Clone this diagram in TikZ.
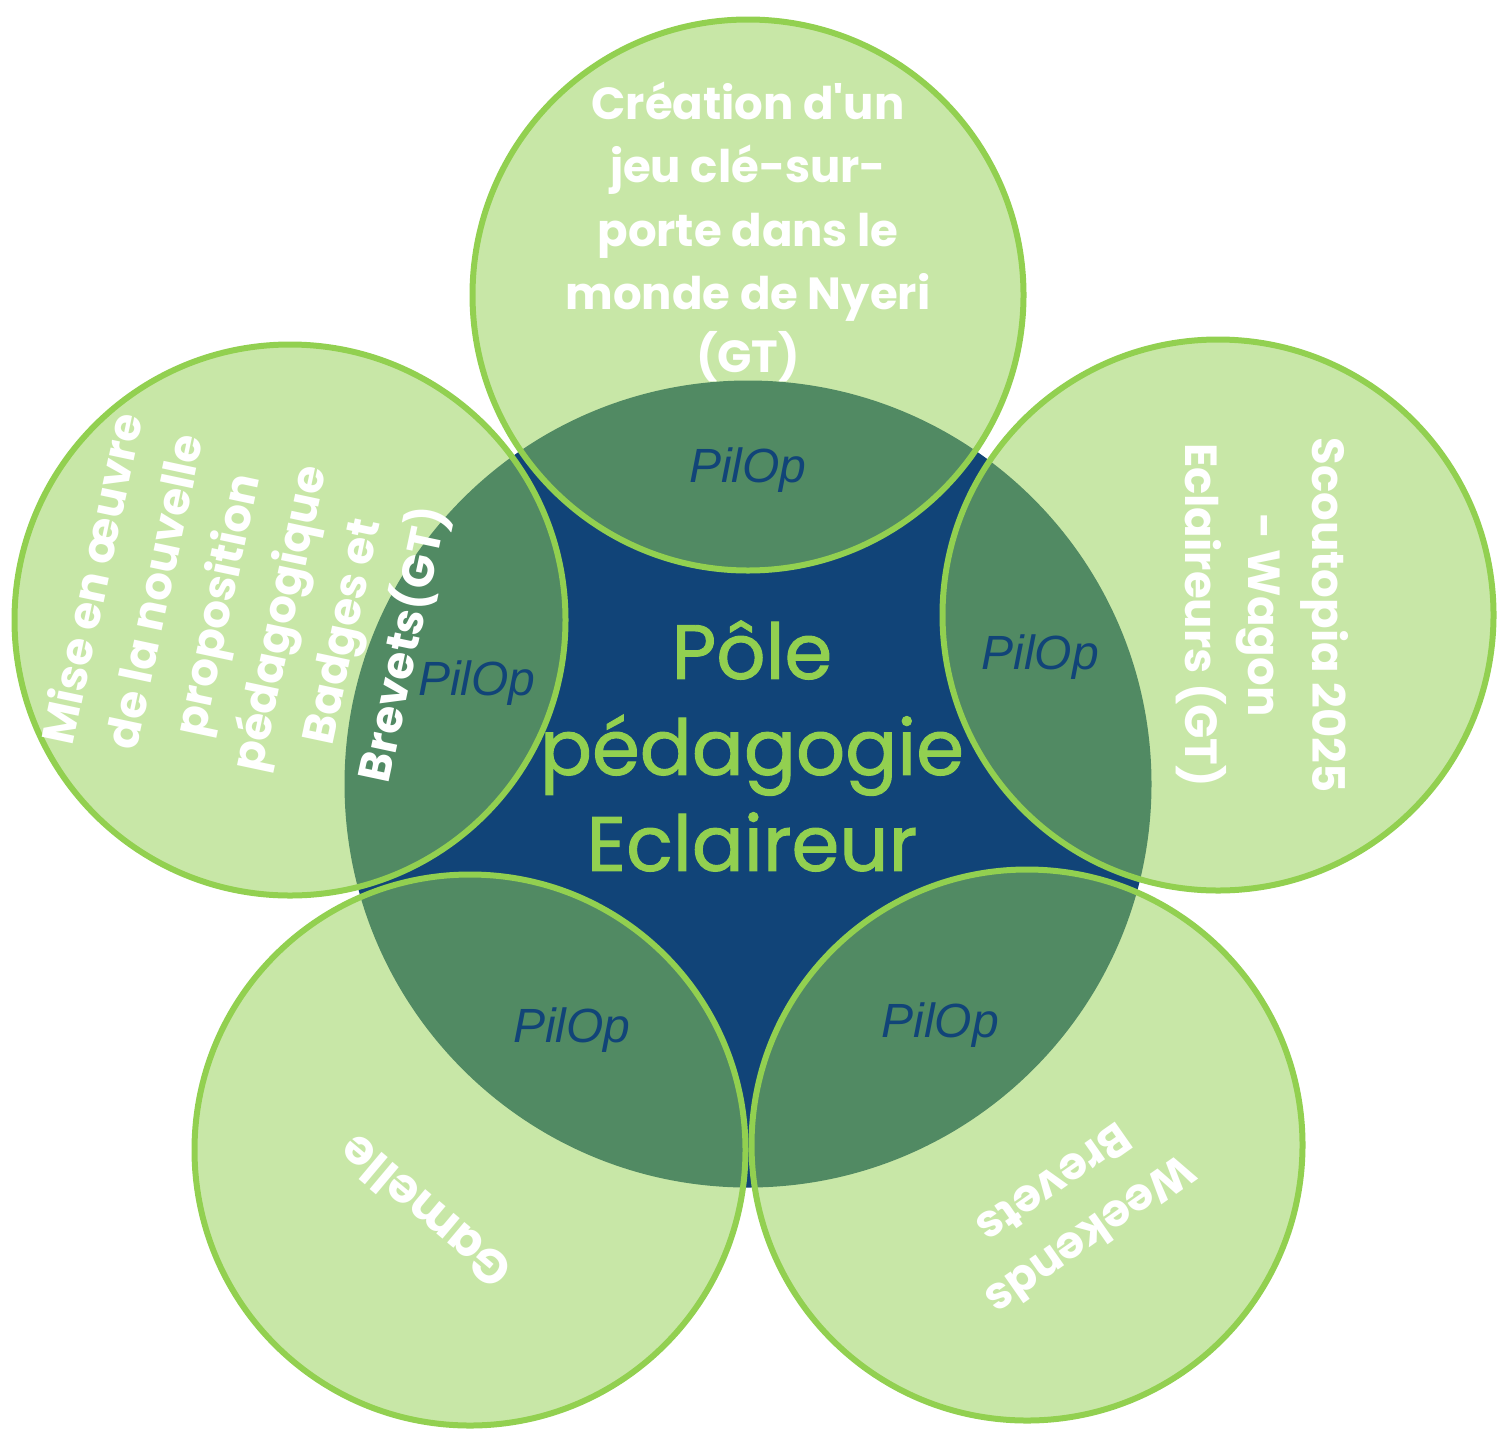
\documentclass[tikz,border=0pt]{standalone}
\usepackage{fontspec}
\setmainfont{Poppins}
\setsansfont{Liberation Sans}
\newfontfamily\polefont[FakeBold=1.2]{Poppins}
\definecolor{poleblue}{RGB}{17,68,120}
\definecolor{leafgreen}{RGB}{146,208,80}

\begin{document}
\begin{tikzpicture}[x=0.5pt,y=-0.5pt,
		core node/.style={circle,fill=poleblue,inner sep=0pt,minimum size=403.5pt},
		petal node/.style={circle,draw=leafgreen,line width=3pt,fill=leafgreen,fill opacity=0.5,inner sep=0pt,minimum size=275.5pt},
		petal text/.style={text=white,align=center,font=\bfseries\fontsize{22.5}{31.7}\selectfont},
		link text/.style={text=poleblue,font=\sffamily\itshape\fontsize{24}{24}\selectfont}]
		\useasboundingbox (0,0) rectangle (1497,1440);
		\node[core node] (pole) at (748,784) {};
		\node[petal node] (nyeri) at (748,295) {};
		\node[petal node] (scoutopia) at (1218,615) {};
		\node[petal node] (weekends) at (1027,1145) {};
		\node[petal node] (gamelle) at (470,1150) {};
		\node[petal node] (badges) at (290,620) {};
		
		\node[text=leafgreen,align=center,font=\polefont\fontsize{38.5}{48}\selectfont] (titre) at (752,746) {Pôle\\pédagogie\\Eclaireur};
		
		\node[petal text] (t nyeri) at (748,232) {Création d\textquotesingle un\\jeu clé-sur-\\porte dans le\\monde de Nyeri\\(GT)};
		\node[petal text,rotate=-90] (t scoutopia) at (1262,615) {Scoutopia 2025\\- Wagon\\Eclaireurs (GT)};
		\node[petal text,rotate=-145] (t weekends) at (1073,1210) {Weekends\\Brevets};
		\node[petal text,rotate=140,font=\bfseries\fontsize{24}{31.7}\selectfont] (t gamelle) at (425,1212) {Gamelle};
		\node[petal text,rotate=78] (t badges) at (250,612) {Mise en œuvre\\de la nouvelle\\proposition\\pédagogique\\Badges et\\Brevets(GT)};
		
		\node[link text] (l nyeri) at (748,470) {PilOp};
		\node[link text] (l scoutopia) at (1040,657) {PilOp};
		\node[link text] (l weekends) at (940,1025) {PilOp};
		\node[link text] (l gamelle) at (572,1030) {PilOp};
		\node[link text] (l badges) at (477,683) {PilOp};
		\end{tikzpicture}
\end{document}
